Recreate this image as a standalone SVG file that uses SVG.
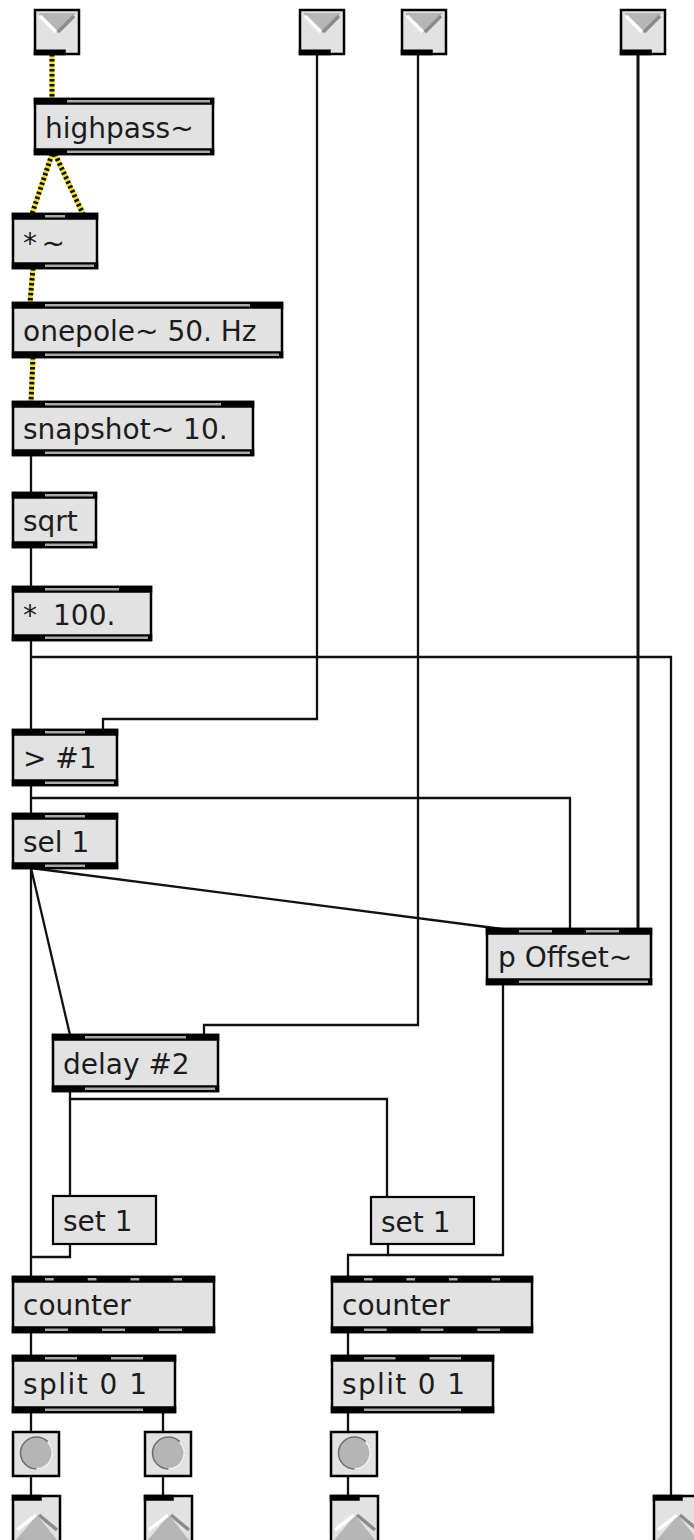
<svg xmlns="http://www.w3.org/2000/svg" width="694" height="1540" viewBox="0 0 694 1540">
  <style>
    .box{fill:#e2e2e2;stroke:#000;stroke-width:2.5}
    .msg{fill:#e2e2e2;stroke:#000;stroke-width:2.2}
    .tab{fill:#000}
    .gap{fill:#a9a9a9}
    .t{font-family:"DejaVu Sans","Liberation Sans",sans-serif;font-size:28px;fill:#1c1c1c}
    .cord{fill:none;stroke:#111;stroke-width:2.3;stroke-linejoin:miter}
    .sig{fill:none;stroke:#f2e01a;stroke-width:5}
    .sigd{fill:none;stroke:#111;stroke-width:5;stroke-dasharray:2.5 2.5}
    .chev{fill:#b6b6b6}
    .hl{fill:none;stroke:#fff;stroke-width:3.5}
    .sh{fill:none;stroke:#8c8c8c;stroke-width:3.5}
    .ball{fill:#b5b5b5;stroke:#6e6e6e;stroke-width:1.5}
    .ballhl{fill:none;stroke:#f2f2f2;stroke-width:2}
  </style>
  <rect width="694" height="1540" fill="#fff"/>

  <!-- patch cords -->
  <g id="connectors">
    <!-- signal cords -->
    <path class="sig" d="M52 54V99M52 154L32 214M55 154L83 214M33 268L30 303M33 357L31 402"/>
    <path class="sigd" d="M52 54V99M52 154L32 214M55 154L83 214M33 268L30 303M33 357L31 402"/>
    <!-- control cords -->
    <path class="cord" d="M31 455V493M31 547V587M31 640V730"/>
    <path class="cord" d="M31 657H671V1496"/>
    <path class="cord" d="M317 54V719H103V730"/>
    <path class="cord" d="M31 785V814"/>
    <path class="cord" d="M31 798H570V929"/>
    <path class="cord" style="stroke-width:3" d="M638 54V929"/>
    <path class="cord" d="M418 54V1025H204V1035"/>
    <path class="cord" d="M31 868L502 929"/>
    <path class="cord" d="M31 868L70 1035"/>
    <path class="cord" d="M31 868V1277"/>
    <path class="cord" d="M70 1091V1196"/>
    <path class="cord" d="M70 1099H387V1197"/>
    <path class="cord" d="M70 1244V1257H31"/>
    <path class="cord" d="M388 1244V1255H348V1277"/>
    <path class="cord" d="M503 984V1255H388"/>
    <path class="cord" d="M31 1332V1356M348 1332V1356"/>
    <path class="cord" d="M31 1412V1432M31 1476V1496"/>
    <path class="cord" d="M163 1412V1432M163 1476V1496"/>
    <path class="cord" d="M348 1412V1432M348 1476V1496"/>
  </g>

  <!-- inlets -->
  <g id="inlet1">
    <rect class="box" x="35" y="10" width="44" height="44"/>
    <rect class="tab" x="33.75" y="49.5" width="32" height="5.75"/>
    <polygon class="chev" points="38,13 76,13 57,33"/>
    <path class="hl" d="M40 16L56 32"/><path class="sh" d="M58 32L74 16"/>
  </g>
  <g id="inlet2">
    <rect class="box" x="300" y="10" width="44" height="44"/>
    <rect class="tab" x="298.75" y="49.5" width="32" height="5.75"/>
    <polygon class="chev" points="303,13 341,13 322,33"/>
    <path class="hl" d="M305 16L321 32"/><path class="sh" d="M323 32L339 16"/>
  </g>
  <g id="inlet3">
    <rect class="box" x="402" y="10" width="44" height="44"/>
    <rect class="tab" x="400.75" y="49.5" width="32" height="5.75"/>
    <polygon class="chev" points="405,13 443,13 424,33"/>
    <path class="hl" d="M407 16L423 32"/><path class="sh" d="M425 32L441 16"/>
  </g>
  <g id="inlet4">
    <rect class="box" x="621" y="10" width="44" height="44"/>
    <rect class="tab" x="619.75" y="49.5" width="32" height="5.75"/>
    <polygon class="chev" points="624,13 662,13 643,33"/>
    <path class="hl" d="M626 16L642 32"/><path class="sh" d="M644 32L660 16"/>
  </g>

  <!-- objects -->
  <g id="highpass">
    <rect class="box" x="35" y="99" width="178" height="55"/>
    <rect class="tab" x="33.75" y="97.75" width="180.5" height="7"/>
    <rect class="gap" x="67" y="100" width="143" height="2.5"/>
    <rect class="tab" x="33.75" y="148.25" width="180.5" height="7"/>
    <rect class="gap" x="67" y="150.5" width="143" height="2.5"/>
    <text class="t" x="45" y="138">highpass~</text>
  </g>
  <g id="mul-sig">
    <rect class="box" x="13" y="214" width="84" height="54"/>
    <rect class="tab" x="11.75" y="212.75" width="86.5" height="7"/>
    <rect class="gap" x="45" y="215" width="20" height="2.5"/>
    <rect class="tab" x="11.75" y="262.25" width="86.5" height="7"/>
    <rect class="gap" x="45" y="264.5" width="49" height="2.5"/>
    <text class="t" x="23" y="253" textLength="42">*~</text>
  </g>
  <g id="onepole">
    <rect class="box" x="13" y="303" width="269" height="54"/>
    <rect class="tab" x="11.75" y="301.75" width="271.5" height="7"/>
    <rect class="gap" x="45" y="304" width="205" height="2.5"/>
    <rect class="tab" x="11.75" y="351.25" width="271.5" height="7"/>
    <rect class="gap" x="45" y="353.5" width="234" height="2.5"/>
    <text class="t" x="23" y="341">onepole~ 50. Hz</text>
  </g>
  <g id="snapshot">
    <rect class="box" x="13" y="402" width="240" height="53"/>
    <rect class="tab" x="11.75" y="400.75" width="242.5" height="7"/>
    <rect class="gap" x="45" y="403" width="176" height="2.5"/>
    <rect class="tab" x="11.75" y="449.25" width="242.5" height="7"/>
    <rect class="gap" x="45" y="451.5" width="205" height="2.5"/>
    <text class="t" x="23" y="439">snapshot~ 10.</text>
  </g>
  <g id="sqrt">
    <rect class="box" x="13" y="493" width="83" height="54"/>
    <rect class="tab" x="11.75" y="491.75" width="85.5" height="7"/>
    <rect class="gap" x="45" y="494" width="48" height="2.5"/>
    <rect class="tab" x="11.75" y="541.25" width="85.5" height="7"/>
    <rect class="gap" x="45" y="543.5" width="48" height="2.5"/>
    <text class="t" x="23" y="531">sqrt</text>
  </g>
  <g id="mul-100">
    <rect class="box" x="13" y="587" width="138" height="53"/>
    <rect class="tab" x="11.75" y="585.75" width="140.5" height="7"/>
    <rect class="gap" x="45" y="588" width="74" height="2.5"/>
    <rect class="tab" x="11.75" y="634.25" width="140.5" height="7"/>
    <rect class="gap" x="45" y="636.5" width="103" height="2.5"/>
    <text class="t" x="23" y="625"><tspan>*</tspan><tspan x="53">100.</tspan></text>
  </g>
  <g id="greater">
    <rect class="box" x="13" y="730" width="104" height="55"/>
    <rect class="tab" x="11.75" y="728.75" width="106.5" height="7"/>
    <rect class="gap" x="45" y="731" width="40" height="2.5"/>
    <rect class="tab" x="11.75" y="779.25" width="106.5" height="7"/>
    <rect class="gap" x="45" y="781.5" width="69" height="2.5"/>
    <text class="t" x="23" y="768">&gt; #1</text>
  </g>
  <g id="sel">
    <rect class="box" x="13" y="814" width="104" height="54"/>
    <rect class="tab" x="11.75" y="812.75" width="106.5" height="7"/>
    <rect class="gap" x="45" y="815" width="40" height="2.5"/>
    <rect class="tab" x="11.75" y="862.25" width="106.5" height="7"/>
    <rect class="gap" x="45" y="864.5" width="40" height="2.5"/>
    <text class="t" x="23" y="852">sel 1</text>
  </g>
  <g id="offset">
    <rect class="box" x="487" y="929" width="164" height="55"/>
    <rect class="tab" x="485.75" y="927.75" width="166.5" height="7"/>
    <rect class="gap" x="519" y="930" width="33" height="2.5"/>
    <rect class="gap" x="586" y="930" width="33" height="2.5"/>
    <rect class="tab" x="485.75" y="978.25" width="166.5" height="7"/>
    <rect class="gap" x="519" y="980.5" width="129" height="2.5"/>
    <text class="t" x="498" y="967">p Offset~</text>
  </g>
  <g id="delay">
    <rect class="box" x="53" y="1035" width="165" height="56"/>
    <rect class="tab" x="51.75" y="1033.75" width="167.5" height="7"/>
    <rect class="gap" x="85" y="1036" width="101" height="2.5"/>
    <rect class="tab" x="51.75" y="1085.25" width="167.5" height="7"/>
    <rect class="gap" x="85" y="1087.5" width="130" height="2.5"/>
    <text class="t" x="63" y="1074">delay #2</text>
  </g>
  <g id="set-a">
    <rect class="msg" x="53" y="1196" width="103" height="48"/>
    <text class="t" x="63" y="1231">set 1</text>
  </g>
  <g id="set-b">
    <rect class="msg" x="371" y="1197" width="103" height="47"/>
    <text class="t" x="381" y="1232">set 1</text>
  </g>
  <g id="counter-a">
    <rect class="box" x="13" y="1277" width="201" height="55"/>
    <rect class="tab" x="11.75" y="1275.75" width="203.5" height="7"/>
    <rect class="gap" x="45" y="1278" width="8.75" height="2.5"/>
    <rect class="gap" x="87.75" y="1278" width="8.75" height="2.5"/>
    <rect class="gap" x="130.5" y="1278" width="8.75" height="2.5"/>
    <rect class="gap" x="173.25" y="1278" width="8.75" height="2.5"/>
    <rect class="tab" x="11.75" y="1326.25" width="203.5" height="7"/>
    <rect class="gap" x="45" y="1328.5" width="23" height="2.5"/>
    <rect class="gap" x="102" y="1328.5" width="23" height="2.5"/>
    <rect class="gap" x="159" y="1328.5" width="23" height="2.5"/>
    <text class="t" x="23" y="1315">counter</text>
  </g>
  <g id="counter-b">
    <rect class="box" x="332" y="1277" width="200" height="55"/>
    <rect class="tab" x="330.75" y="1275.75" width="202.5" height="7"/>
    <rect class="gap" x="364" y="1278" width="8.5" height="2.5"/>
    <rect class="gap" x="406.5" y="1278" width="8.5" height="2.5"/>
    <rect class="gap" x="449" y="1278" width="8.5" height="2.5"/>
    <rect class="gap" x="491.5" y="1278" width="8.5" height="2.5"/>
    <rect class="tab" x="330.75" y="1326.25" width="202.5" height="7"/>
    <rect class="gap" x="364" y="1328.5" width="22.7" height="2.5"/>
    <rect class="gap" x="420.7" y="1328.5" width="22.7" height="2.5"/>
    <rect class="gap" x="477.3" y="1328.5" width="22.7" height="2.5"/>
    <text class="t" x="342" y="1315">counter</text>
  </g>
  <g id="split-a">
    <rect class="box" x="13" y="1356" width="162" height="56"/>
    <rect class="tab" x="11.75" y="1354.75" width="164.5" height="7"/>
    <rect class="gap" x="45" y="1357" width="32" height="2.5"/>
    <rect class="gap" x="111" y="1357" width="32" height="2.5"/>
    <rect class="tab" x="11.75" y="1406.25" width="164.5" height="7"/>
    <rect class="gap" x="45" y="1408.5" width="98" height="2.5"/>
    <text class="t" x="23" y="1394" textLength="124">split 0 1</text>
  </g>
  <g id="split-b">
    <rect class="box" x="332" y="1356" width="161" height="56"/>
    <rect class="tab" x="330.75" y="1354.75" width="163.5" height="7"/>
    <rect class="gap" x="364" y="1357" width="31.5" height="2.5"/>
    <rect class="gap" x="429.5" y="1357" width="31.5" height="2.5"/>
    <rect class="tab" x="330.75" y="1406.25" width="163.5" height="7"/>
    <rect class="gap" x="364" y="1408.5" width="97" height="2.5"/>
    <text class="t" x="342" y="1394" textLength="123">split 0 1</text>
  </g>

  <!-- bangs -->
  <g id="bang1">
    <rect class="box" x="13" y="1432" width="46" height="44"/>
    <circle class="ball" cx="36.5" cy="1453" r="16"/>
    <path class="ballhl" d="M47.8 1441.7A16 16 0 0 1 36.5 1469"/>
  </g>
  <g id="bang2">
    <rect class="box" x="145" y="1432" width="46" height="44"/>
    <circle class="ball" cx="168.5" cy="1453" r="16"/>
    <path class="ballhl" d="M179.8 1441.7A16 16 0 0 1 168.5 1469"/>
  </g>
  <g id="bang3">
    <rect class="box" x="331" y="1432" width="46" height="44"/>
    <circle class="ball" cx="354.5" cy="1453" r="16"/>
    <path class="ballhl" d="M365.8 1441.7A16 16 0 0 1 354.5 1469"/>
  </g>

  <!-- outlets -->
  <g id="outlet1">
    <rect class="box" x="13" y="1496" width="47" height="46"/>
    <rect class="tab" x="11.75" y="1494.75" width="30" height="6"/>
    <polygon class="chev" points="16,1540 37,1515 57,1540"/>
    <path class="hl" d="M17 1530L36 1515"/><path class="sh" d="M39 1515L57 1530"/>
  </g>
  <g id="outlet2">
    <rect class="box" x="145" y="1496" width="47" height="46"/>
    <rect class="tab" x="143.75" y="1494.75" width="30" height="6"/>
    <polygon class="chev" points="148,1540 169,1515 189,1540"/>
    <path class="hl" d="M149 1530L168 1515"/><path class="sh" d="M171 1515L189 1530"/>
  </g>
  <g id="outlet3">
    <rect class="box" x="331" y="1496" width="47" height="46"/>
    <rect class="tab" x="329.75" y="1494.75" width="30" height="6"/>
    <polygon class="chev" points="334,1540 355,1515 375,1540"/>
    <path class="hl" d="M335 1530L354 1515"/><path class="sh" d="M357 1515L375 1530"/>
  </g>
  <g id="outlet4">
    <rect class="box" x="654" y="1496" width="47" height="46"/>
    <rect class="tab" x="652.75" y="1494.75" width="30" height="6"/>
    <polygon class="chev" points="657,1540 678,1515 698,1540"/>
    <path class="hl" d="M658 1530L677 1515"/><path class="sh" d="M680 1515L698 1530"/>
  </g>
</svg>
